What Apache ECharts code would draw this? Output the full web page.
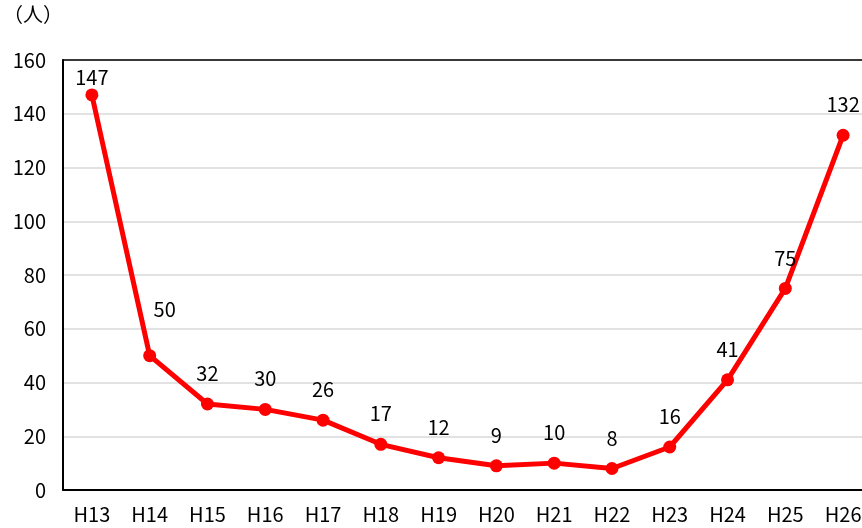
<!DOCTYPE html>
<html>
<head>
<meta charset="utf-8">
<script src="https://cdn.jsdelivr.net/npm/echarts@6/dist/echarts.min.js"></script>
<style>
  html, body { margin: 0; padding: 0; background: #fff; overflow: hidden; }
  /* プロット領域は右端で切れているので、少し広く描いてはみ出させる */
  #main { width: 872px; height: 528px; }
</style>
</head>
<body>
<div id="main"></div>
<script>
// 年度（平成）
const years = ['H13', 'H14', 'H15', 'H16', 'H17', 'H18', 'H19', 'H20', 'H21', 'H22', 'H23', 'H24', 'H25', 'H26'];
// 人数
const persons = [147, 50, 32, 30, 26, 17, 12, 9, 10, 8, 16, 41, 75, 132];
const yTicks = [0, 20, 40, 60, 80, 100, 120, 140, 160];

const font = '"Noto Sans CJK JP", "Noto Sans", sans-serif';

// ラベル位置の微調整（Excel の手動配置に合わせる）
const labelShift = { 0: [0, 13], 1: [15, -16] };

const chart = echarts.init(document.getElementById('main'));
chart.setOption({
  animation: false,
  textStyle: { fontFamily: font },
  graphic: [{
    type: 'text',
    left: 3,
    top: 4,
    style: { text: '（人）', font: '20px ' + font, fill: '#000' }
  }],
  grid: {
    left: 63, right: 0, top: 60, bottom: 38
  },
  xAxis: [{
    type: 'category',
    data: years,
    boundaryGap: true,
    axisLine: { lineStyle: { color: '#000', width: 2 } },
    axisTick: { show: false },
    axisLabel: { color: '#000', fontSize: 20, margin: 14, fontFamily: font }
  }, {
    // 上枠線
    type: 'category',
    position: 'top',
    data: years,
    axisLine: { lineStyle: { color: '#000', width: 1.5 } },
    axisTick: { show: false },
    axisLabel: { show: false }
  }],
  yAxis: {
    type: 'value',
    min: yTicks[0],
    max: yTicks[yTicks.length - 1],
    interval: 20,
    axisLine: { show: true, lineStyle: { color: '#000', width: 2 } },
    axisTick: { show: false },
    splitLine: { lineStyle: { color: '#d9d9d9', width: 1.5 } },
    axisLabel: { color: '#000', fontSize: 20, margin: 17, fontFamily: font }
  },
  series: [{
    type: 'line',
    data: persons.map((v, i) => labelShift[i]
      ? { value: v, label: { offset: labelShift[i] } }
      : v),
    lineStyle: { color: '#ff0000', width: 5 },
    itemStyle: { color: '#ff0000' },
    symbol: 'circle',
    symbolSize: 13,
    label: {
      show: true,
      position: 'top',
      distance: 14,
      color: '#000',
      fontSize: 20,
      fontFamily: font
    }
  }]
});
</script>
</body>
</html>
